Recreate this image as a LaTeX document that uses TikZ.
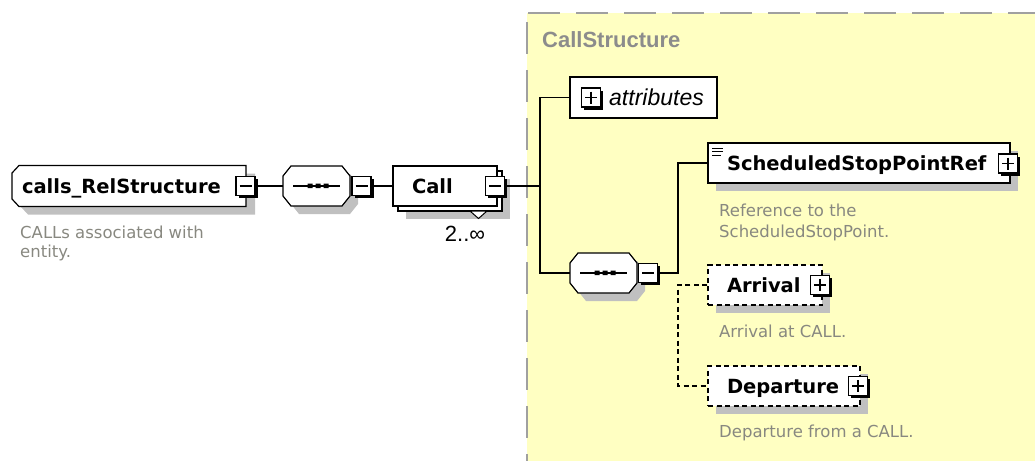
\documentclass[tikz,border=0pt]{standalone}
\usepackage{fontspec}
\setmainfont{DejaVu Sans}
\newfontfamily\arialf{Liberation Sans}
\usetikzlibrary{shadows}
\definecolor{bgyellow}{RGB}{255,255,194}
\definecolor{bordergray}{RGB}{160,160,160}
\definecolor{shadowgray}{RGB}{192,192,192}
\definecolor{descgray}{RGB}{136,136,128}
\definecolor{titlegray}{RGB}{140,140,140}
\newcommand\namefont{\fontsize{19.5}{23}\selectfont\bfseries}
\newcommand\descfont{\fontsize{16.5}{20}\selectfont}
\tikzset{
 every node/.style={inner sep=0pt},
 conn/.style={line width=1.3pt, black},
 dconn/.style={conn, dash pattern=on 5pt off 3.5pt},
 sqbox/.style={draw=black, fill=white, line width=1.4pt, minimum size=19pt,
   general shadow={fill=black, shadow xshift=2.5pt, shadow yshift=-2.5pt}},
 minusbox/.style={sqbox, path picture={\draw[line width=1.3pt]
   ([xshift=3.5pt]path picture bounding box.west) -- ([xshift=-3.5pt]path picture bounding box.east);}},
 plusbox/.style={sqbox, path picture={\draw[line width=1.3pt]
   ([xshift=3.5pt]path picture bounding box.west) -- ([xshift=-3.5pt]path picture bounding box.east)
   ([yshift=-3.5pt]path picture bounding box.north) -- ([yshift=3.5pt]path picture bounding box.south);}},
 elbox/.style={draw=black, fill=white, line width=1.2pt, minimum height=40pt,
   inner xsep=19pt, align=left, font=\namefont, text height=14pt, text depth=0pt},
 optbox/.style={elbox, dash pattern=on 5pt off 3.5pt},
 shad/.style={general shadow={fill=shadowgray, shadow xshift=8pt, shadow yshift=-8pt}},
 desc/.style={anchor=base west, font=\descfont, text=descgray},
 seqline/.style={line width=1.2pt, fill=white},
}
\newcommand\seqshape[2]{%
  \begin{scope}[shift={(#1,#2)}]
  \fill[shadowgray] (-17.5,-12)--(33.5,-12)--(41.5,-2)--(41.5,18)--(33.5,28)--(-17.5,28)--(-25.5,18)--(-25.5,-2)--cycle;
  \draw[seqline] (-25.5,-20)--(25.5,-20)--(33.5,-10)--(33.5,10)--(25.5,20)--(-25.5,20)--(-33.5,10)--(-33.5,-10)--cycle;
  \draw[line width=1.3pt] (-23.5,0)--(23.5,0);
  \fill (-9,-2.5) rectangle (-4,2) (-1,-2.5) rectangle (4,2) (7,-2.5) rectangle (12,2);
  \end{scope}}
\begin{document}
\begin{tikzpicture}[x=1pt,y=-1pt]
\useasboundingbox (0,0) rectangle (1035,461);
% CallStructure region
\fill[bgyellow] (527,13) rectangle (1035,461);
\draw[bordergray, line width=2.5pt, dash pattern=on 32pt off 16pt] (528,13) -- (1035,13);
\draw[bordergray, line width=2.5pt, dash pattern=on 32pt off 16pt] (527,22) -- (527,461);
\node[anchor=base west, font=\arialf\fontsize{22}{26}\selectfont\bfseries, text=titlegray] (cstitle) at (542,47) {CallStructure};

% calls_RelStructure
\fill[shadowgray] (28,173.5) -- (255,173.5) -- (255,214.5) -- (28,214.5) -- (21,207) -- (21,181) -- cycle;
\draw[line width=1.2pt, fill=white] (19,165.5) -- (246,165.5) -- (246,206.5) -- (19,206.5) -- (12,199) -- (12,173) -- cycle;
\node[font=\namefont, minimum width=234pt, minimum height=41pt, text width=214pt, inner xsep=10pt,
  align=left, text height=14pt, text depth=0pt] (crs) at (129,186) {calls\_RelStructure};
\node[minusbox] (m1) at (245.5,186) {};
\node[desc] (d1a) at (20,238) {CALLs associated with};
\node[desc] (d1b) at (20,257) {entity.};

% sequence 1
\seqshape{316.5}{186}
\node[minimum width=67pt, minimum height=40pt] (seq1) at (316.5,186) {};
\draw[conn] (m1.east) -- (seq1.west);
\node[minusbox] (m2) at (361.5,186) {};

% Call
\node[elbox, shad, minimum width=104pt, text width=66pt] (callB) at (450,191) {};
\draw[conn] (m2.east) -- (callB.west |- m2.east) ;
\node[elbox, minimum width=104pt, text width=66pt] (callF) at (445,186) {Call};
\draw[line width=1pt, fill=white] (470,211) -- (487,211) -- (478.5,218.5) -- cycle;
\node[minusbox] (m3) at (495,186) {};
\node[font=\arialf\fontsize{22}{26}\selectfont, anchor=base] (mult) at (465,241) {2..∞};

% attributes
\node[draw=black, fill=white, line width=1.2pt, minimum width=147pt, minimum height=41pt] (attr) at (643.5,97.5) {};
\node[plusbox] (p1) at (591,97.5) {};
\node[anchor=base west, font=\arialf\fontsize{23}{26}\selectfont\itshape] (attrT) at (609,105) {attributes};

% sequence 2
\seqshape{603.5}{273}
\node[minimum width=67pt, minimum height=40pt] (seq2) at (603.5,273) {};
\node[minusbox] (m4) at (648,273) {};

\coordinate (j1) at (540,186);
\draw[conn] (m3.east) -- (j1);
\draw[conn] (attr.west) -| (j1) |- (seq2.west);

% ScheduledStopPointRef
\node[elbox, shad, text width=264pt] (sspr) at (859,163) {ScheduledStopPointRef};
\draw[line width=1pt] (712,148)--(723,148) (712,151.5)--(723,151.5) (712,155)--(721,155);
\node[plusbox] (p2) at (1008,163.5) {};
\node[desc] (d2a) at (719,216) {Reference to the};
\node[desc] (d2b) at (719,237) {ScheduledStopPoint.};

\coordinate (j2) at (678,273);
\draw[conn] (m4.east) -- (j2) |- (sspr.west);

% Arrival
\node[optbox, shad, text width=76pt] (arr) at (765,285) {Arrival};
\node[plusbox] (p3) at (820,285) {};
\node[desc] (d3) at (719,337) {Arrival at CALL.};

% Departure
\node[optbox, shad, text width=114pt] (dep) at (784,386) {Departure};
\node[plusbox] (p4) at (858,386) {};
\node[desc] (d4) at (719,437) {Departure from a CALL.};

\coordinate (j3) at (678,285);
\draw[dconn] (arr.west) -- (j3) |- (dep.west);
\end{tikzpicture}
\end{document}
